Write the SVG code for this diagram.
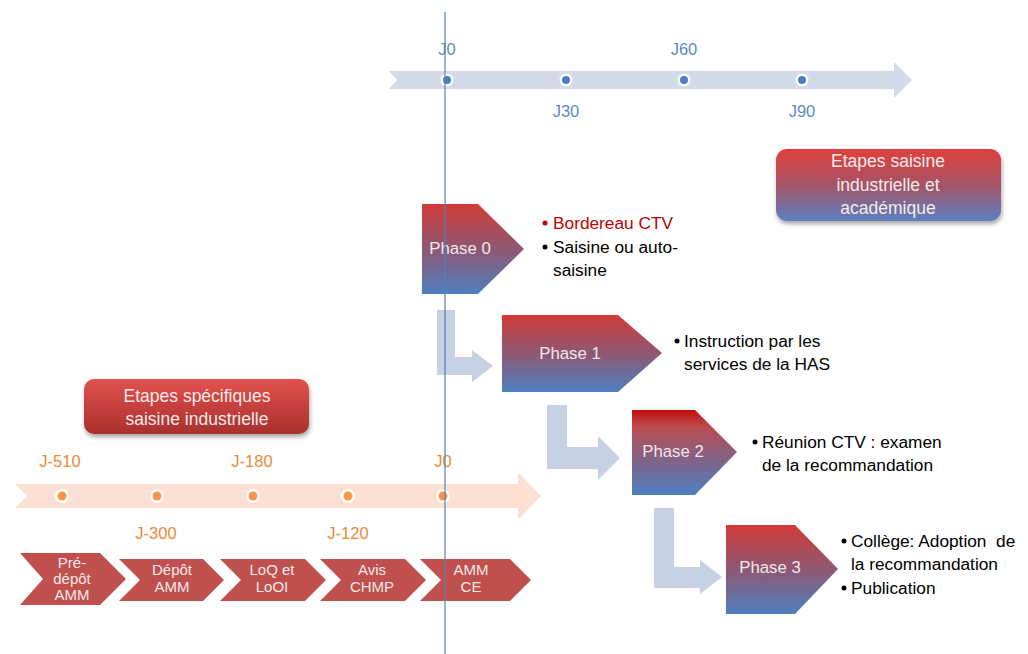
<svg xmlns="http://www.w3.org/2000/svg" width="1028" height="654" viewBox="0 0 1028 654">
<defs>
<linearGradient id="gPhase" x1="0" y1="0" x2="0" y2="1">
<stop offset="0" stop-color="#d13b38"/>
<stop offset="0.5" stop-color="#8e5873"/>
<stop offset="1" stop-color="#4e7fc0"/>
</linearGradient>
<linearGradient id="gPhase2" x1="0" y1="0" x2="0" y2="1">
<stop offset="0" stop-color="#c20a0a"/>
<stop offset="0.2" stop-color="#bb4d50"/>
<stop offset="0.6" stop-color="#7f6488"/>
<stop offset="1" stop-color="#4e7fc0"/>
</linearGradient>
<linearGradient id="gBoxTR" x1="0" y1="0" x2="0" y2="1">
<stop offset="0" stop-color="#e0403c"/>
<stop offset="0.5" stop-color="#a55466"/>
<stop offset="1" stop-color="#5b7fc2"/>
</linearGradient>
<linearGradient id="gBoxBL" x1="0" y1="0" x2="0" y2="1">
<stop offset="0" stop-color="#e2524e"/>
<stop offset="0.5" stop-color="#c5403c"/>
<stop offset="1" stop-color="#a9302d"/>
</linearGradient>
<filter id="shadow" x="-10%" y="-20%" width="120%" height="150%">
<feDropShadow dx="1" dy="3" stdDeviation="2" flood-color="#000" flood-opacity="0.35"/>
</filter>
<style>
.t{font-family:"Liberation Sans",Arial,sans-serif}
.lbl{font-size:17.3px;fill:#000;white-space:pre}
.red{fill:#c00000}
.ph{font-size:16.8px;fill:#f3e6ea;text-anchor:middle}
.bx{font-size:17.5px;fill:#f6eaea;text-anchor:middle}
.jb{font-size:16.5px;fill:#5b8bc8;text-anchor:middle}
.jo{font-size:16.5px;fill:#ec8a38;text-anchor:middle}
.ch{font-size:15px;fill:#f7e8e8;text-anchor:middle}
.chev{fill:#c0504d}
.larrow{fill:#c6d1e4}
</style>
</defs>
<rect width="1028" height="654" fill="#ffffff"/>

<g id="timeline-top">
<polygon points="389,71 894,71 894,62 912,80 894,98 894,89 389,89 397,80" fill="#d3dbe8"/>
<g fill="#ffffff"><circle cx="447" cy="80" r="6.5"/><circle cx="566" cy="80" r="6.5"/><circle cx="684" cy="80" r="6.5"/><circle cx="802" cy="80" r="6.5"/></g>
<g fill="#4a7cc0"><circle cx="447" cy="80" r="4"/><circle cx="566" cy="80" r="4"/><circle cx="684" cy="80" r="4"/><circle cx="802" cy="80" r="4"/></g>
<text class="t jb" x="447" y="55">J0</text>
<text class="t jb" x="684" y="55">J60</text>
<text class="t jb" x="566" y="117">J30</text>
<text class="t jb" x="802" y="117">J90</text>
</g>

<g id="timeline-bottom">
<polygon points="15,484 518,484 518,472 541,496 518,520 518,508 15,508 27,496" fill="#fce0d4"/>
<g fill="#ffffff"><circle cx="62" cy="496" r="7"/><circle cx="157" cy="496" r="7"/><circle cx="253" cy="496" r="7"/><circle cx="348" cy="496" r="7"/><circle cx="443" cy="496" r="7"/></g>
<g fill="#f79646"><circle cx="62" cy="496" r="4.5"/><circle cx="157" cy="496" r="4.5"/><circle cx="253" cy="496" r="4.5"/><circle cx="348" cy="496" r="4.5"/><circle cx="443" cy="496" r="4.5"/></g>
<text class="t jo" x="60" y="467">J-510</text>
<text class="t jo" x="252" y="467">J-180</text>
<text class="t jo" x="443" y="467">J0</text>
<text class="t jo" x="156" y="539">J-300</text>
<text class="t jo" x="348" y="539">J-120</text>
</g>

<g id="box-academic">
<rect x="776" y="149" width="225" height="72" rx="11" fill="url(#gBoxTR)" filter="url(#shadow)"/>
<text class="t bx" x="888" y="167">Etapes saisine</text>
<text class="t bx" x="888" y="191">industrielle et</text>
<text class="t bx" x="888" y="214">académique</text>
</g>

<g id="box-industrial">
<rect x="84" y="379" width="225" height="55" rx="10" fill="url(#gBoxBL)" filter="url(#shadow)"/>
<text class="t bx" x="197" y="402">Etapes spécifiques</text>
<text class="t bx" x="197" y="425">saisine industrielle</text>
</g>

<g id="connectors">
<polygon class="larrow" points="437,310 455,310 455,357 472,357 472,350 493,366 472,382 472,375 437,375"/>
<polygon class="larrow" points="547,405 567,405 567,447 598,447 598,436 620,458 598,480 598,469 547,469"/>
<polygon class="larrow" points="654,508 674,508 674,567 700,567 700,560 722,577 700,594 700,588 654,588"/>
</g>

<g id="phase0">
<polygon points="422,204 478,204 524,249 478,294 422,294" fill="url(#gPhase)"/>
<text class="t ph" x="460" y="254">Phase 0</text>
<circle cx="545" cy="223" r="2.5" fill="#c00000"/>
<text class="t lbl red" x="553" y="229">Bordereau CTV</text>
<circle cx="545" cy="247" r="2.5" fill="#000"/>
<text class="t lbl" x="553" y="253">Saisine ou auto-</text>
<text class="t lbl" x="553" y="276">saisine</text>
</g>

<g id="phase1">
<polygon points="502,315 618,315 662,353 618,392 502,392" fill="url(#gPhase)"/>
<text class="t ph" x="570" y="359">Phase 1</text>
<circle cx="677" cy="341" r="2.5" fill="#000"/>
<text class="t lbl" x="684" y="347">Instruction par les</text>
<text class="t lbl" x="684" y="370">services de la HAS</text>
</g>

<g id="phase2">
<polygon points="632,410 695,410 737,452 695,495 632,495" fill="url(#gPhase2)"/>
<text class="t ph" x="673" y="457">Phase 2</text>
<circle cx="755" cy="442" r="2.5" fill="#000"/>
<text class="t lbl" x="762" y="448">Réunion CTV : examen</text>
<text class="t lbl" x="762" y="471">de la recommandation</text>
</g>

<g id="phase3">
<polygon points="726,525 795,525 838,569 795,614 726,614" fill="url(#gPhase)"/>
<text class="t ph" x="770" y="573">Phase 3</text>
<circle cx="844" cy="541" r="2.5" fill="#000"/>
<text class="t lbl" x="851" y="547">Collège: Adoption  de</text>
<text class="t lbl" x="851" y="570">la recommandation</text>
<circle cx="844" cy="588" r="2.5" fill="#000"/>
<text class="t lbl" x="851" y="594">Publication</text>
</g>

<g id="chevron-predepot">
<polygon class="chev" points="20,553 100,553 126,579 100,605 20,605 43,579"/>
<text class="t ch" x="72" y="568">Pré-</text>
<text class="t ch" x="72" y="584">dépôt</text>
<text class="t ch" x="72" y="600">AMM</text>
</g>
<g id="chevron-depot">
<polygon class="chev" points="119,559 203,559 224,580 203,601 119,601 140,580"/>
<text class="t ch" x="172" y="575">Dépôt</text>
<text class="t ch" x="172" y="592">AMM</text>
</g>
<g id="chevron-loq">
<polygon class="chev" points="220,559 305,559 326,580 305,601 220,601 241,580"/>
<text class="t ch" x="272" y="575">LoQ et</text>
<text class="t ch" x="272" y="592">LoOI</text>
</g>
<g id="chevron-avis">
<polygon class="chev" points="320,559 405,559 426,580 405,601 320,601 341,580"/>
<text class="t ch" x="372" y="575">Avis</text>
<text class="t ch" x="372" y="592">CHMP</text>
</g>
<g id="chevron-ammce">
<polygon class="chev" points="420,559 510,559 531,580 510,601 420,601 441,580"/>
<text class="t ch" x="471" y="575">AMM</text>
<text class="t ch" x="471" y="592">CE</text>
</g>

<g id="j0-line">
<line x1="445" y1="12" x2="445" y2="654" stroke="#4f81bd" stroke-width="1.2"/>
</g>
</svg>
